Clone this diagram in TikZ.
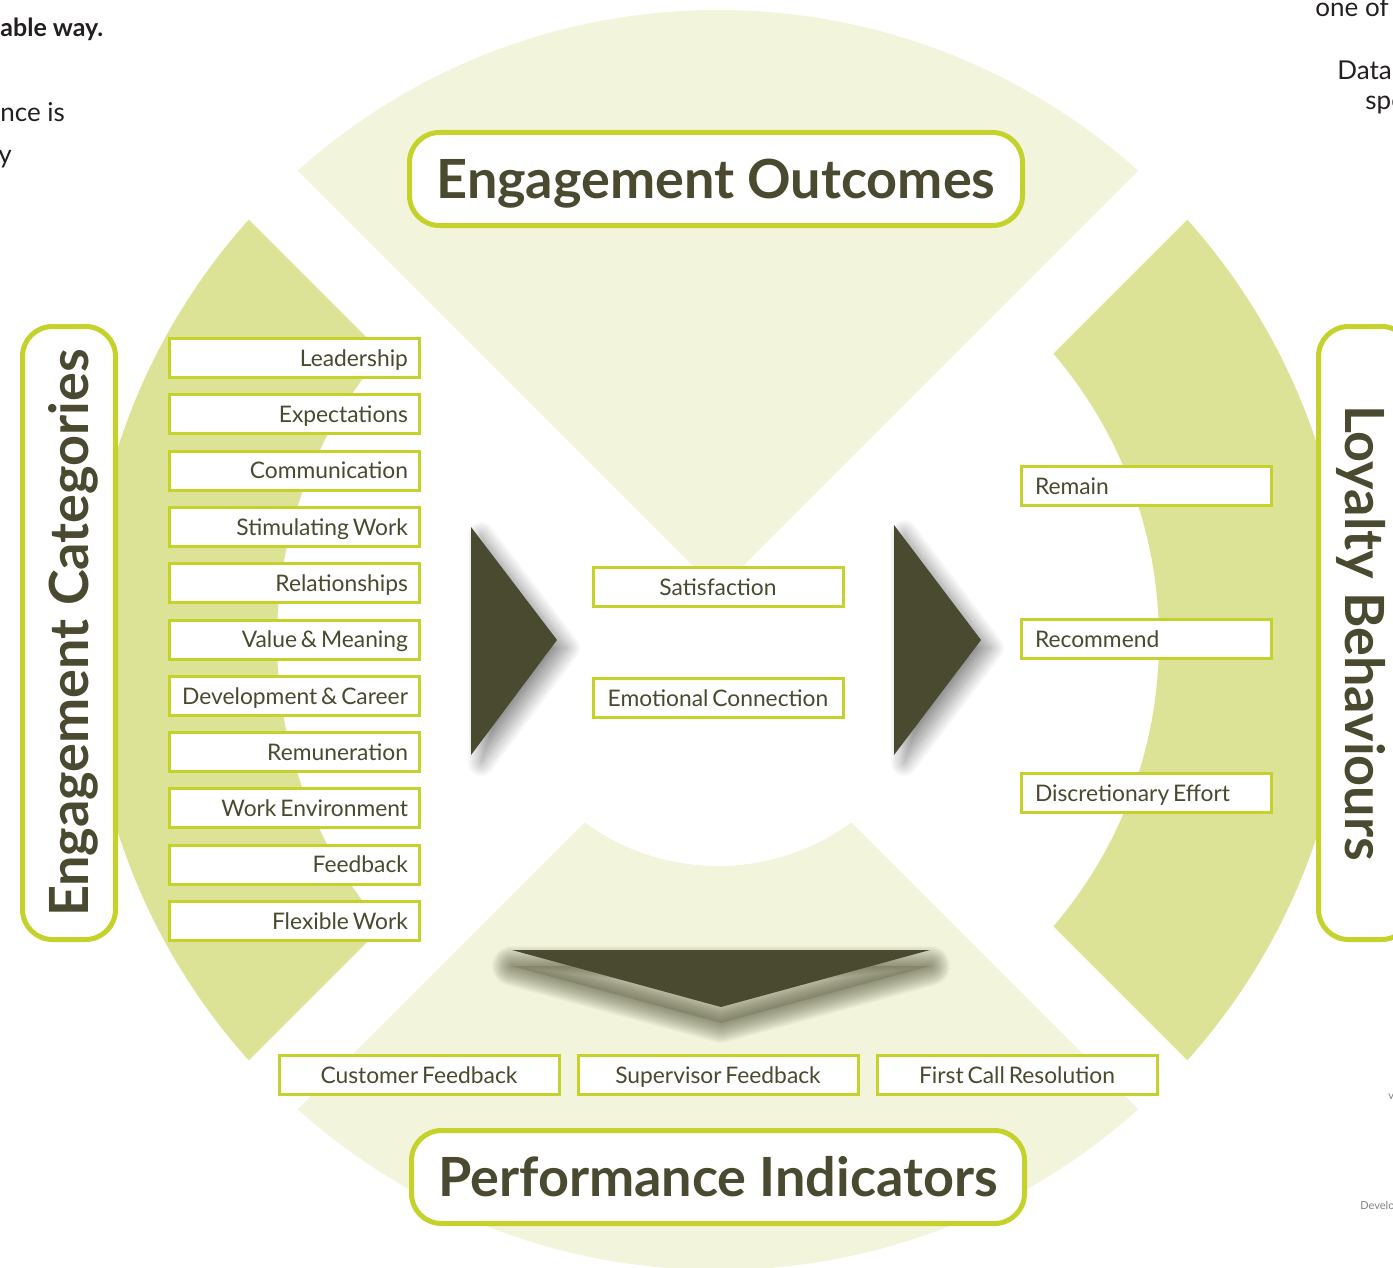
\documentclass[tikz,border=0pt]{standalone}
\usepackage{fontspec}
\setmainfont{Lato}
\usetikzlibrary{positioning, shadows.blur}

\definecolor{darkolive}{HTML}{4A4A30}
\definecolor{limeline}{HTML}{C5D22B}
\definecolor{paleleaf}{HTML}{F2F5DC}
\definecolor{leaf}{HTML}{DDE396}
\definecolor{pagetext}{HTML}{231F20}

\newcommand{\tightspace}{\spaceskip 0.17em\relax}

\begin{document}
\begin{tikzpicture}[x=0.5pt, y=-0.5pt,
  title box/.style={draw=limeline, line width=2.5pt, fill=white, rounded corners=15pt,
    minimum width=306.5pt, minimum height=46.5pt, text=darkolive,
    font=\fontsize{27}{30}\selectfont\bfseries, text height=19.4pt, text depth=0pt},
  item box/.style={draw=limeline, line width=1.5pt, fill=white, text=darkolive, minimum height=19.5pt,
    font={\fontsize{11.4}{14}\selectfont\tightspace}, text height=8.2pt, text depth=0pt},
  cat box/.style={item box, inner xsep=5.75pt},
  act box/.style={item box, inner xsep=6.75pt},
  mid box/.style={item box, minimum width=125pt},
  kpi box/.style={item box, minimum width=140pt},
  pointer/.style={fill=darkolive, blur shadow={shadow blur steps=25, shadow opacity=45,
    shadow xshift=5pt, shadow yshift=-4pt, shadow blur radius=7pt}},
  scrap/.style={anchor=base west, inner sep=0pt, text=pagetext, font=\fontsize{13}{15}\selectfont}]

  \useasboundingbox (0,0) rectangle (1393,1268);

  % four quarters of the ring, split along the diagonals
  \foreach \ang/\col/\rin in {-90/paleleaf/1, 0/leaf/441, 90/paleleaf/226, 180/leaf/441} {
    \begin{scope}
      \clip (718,640) ++(\ang:49) -- +(\ang-45:1300) -- +(\ang+45:1300) -- cycle;
      \fill[\col, even odd rule] (718,640) circle[radius=630] circle[radius=\rin];
    \end{scope}}

  \node[title box] (outcomes) at (716,179) {Engagement Outcomes};
  \node[title box] (indicators) at (718,1177) {Performance Indicators};
  \node[title box, rotate=90] (categories) at (69,633) {Engagement Categories};
  \node[title box, rotate=-90] (loyalty) at (1365,633) {Loyalty Behaviours};

  \foreach \lbl [count=\i] in {Leadership, Expectations, Communication, Stimulating Work,
      Relationships, Value \& Meaning, Development \& Career, Remuneration,
      Work Environment, Feedback, Flexible Work}
    \node[cat box] (cat\i) at (294.5,{301.7+56.3*\i}) {\hbox to 113.5pt{\hfil\lbl}};

  \node[mid box] (satisfaction) at (718,587) {Satisfaction};
  \node[mid box, below=34.5pt of satisfaction] (connection) {Emotional Connection};

  \node[act box] (remain) at (1146.5,486) {\hbox to 111.5pt{Remain\hfil}};
  \node[act box, below=55.5pt of remain] (recommend) {\hbox to 111.5pt{Recommend\hfil}};
  \node[act box, below=56pt of recommend] (effort) {\hbox to 111.5pt{Discretionary Effort\hfil}};

  \node[kpi box] (supervisor) at (718,1075) {Supervisor Feedback};
  \node[kpi box, left=8pt of supervisor] (customer) {Customer Feedback};
  \node[kpi box, right=8pt of supervisor] (firstcall) {First Call Resolution};

  % arrow heads
  \fill[pointer] (471,527) -- (471,755) -- (557,640) -- cycle;
  \fill[pointer] (894,525) -- (894,755) -- (981,640) -- cycle;
  \begin{scope}[yshift=-8pt]
    \fill[darkolive, opacity=0.2] (512,950) -- (930,950) -- (721,1007) -- cycle;
    \foreach \w in {1,2,...,20}
      \draw[darkolive, opacity=0.035, line width=\w pt, line join=round]
        (512,950) -- (930,950) -- (721,1007) -- cycle;
  \end{scope}
  \fill[darkolive] (512,950) -- (930,950) -- (721,1007) -- cycle;

  % text running on from the page around it
  \node[scrap, font=\fontsize{12.5}{15}\selectfont\bfseries] (s1) at (0,37) {able way.};
  \node[scrap] (s2) at (0,122) {nce is};
  \node[scrap] (s3) at (-2,163) {y};
  \node[scrap] (s4) at (1315,17) {one of t};
  \node[scrap] (s5) at (1337,80) {Data};
  \node[scrap] (s6) at (1365,110) {spe};
  \node[scrap, text=gray, font=\fontsize{5.5}{6}\selectfont] (s7) at (1388,1099) {v};
  \node[scrap, text=gray, font=\fontsize{5.5}{6}\selectfont] (s8) at (1360,1209) {Develo};
\end{tikzpicture}
\end{document}
